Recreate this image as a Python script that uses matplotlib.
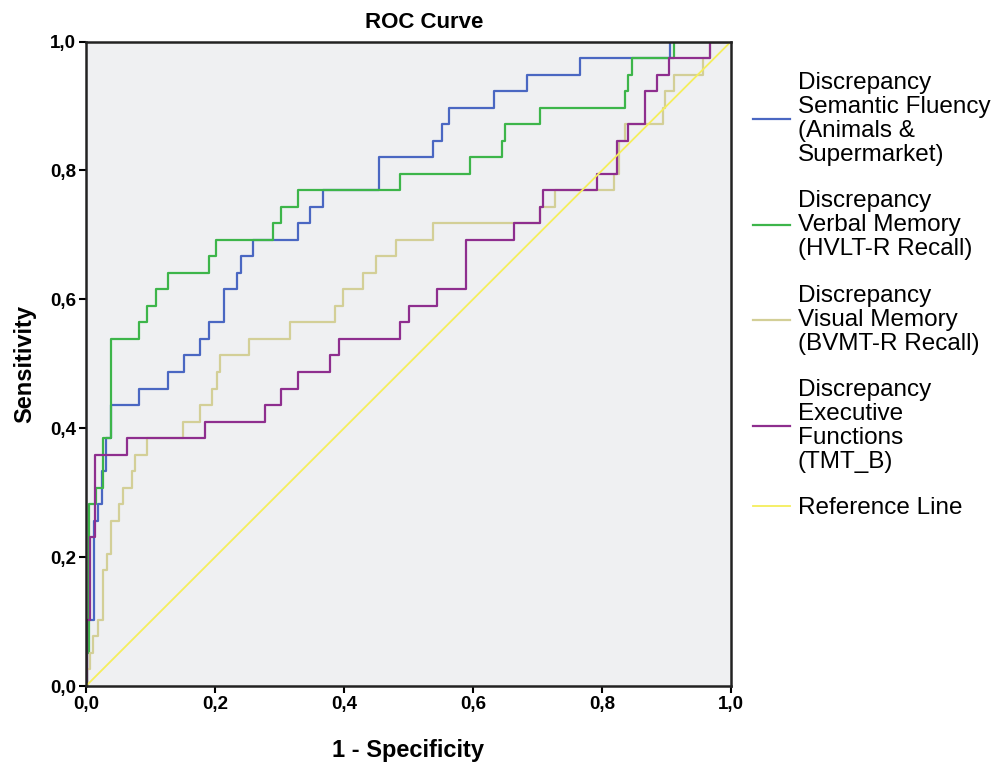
import matplotlib
matplotlib.use("Agg")
import matplotlib.pyplot as plt
from matplotlib.ticker import FuncFormatter

plt.rcParams['font.family'] = ['Liberation Sans', 'DejaVu Sans']

# ROC step points (1 - specificity, sensitivity); sensitivity in units of 1/39
fluency_fpr = [0.0, 0.002, 0.012, 0.019, 0.025, 0.031, 0.038, 0.082, 0.127, 0.152, 0.177,
               0.190, 0.214, 0.234, 0.240, 0.259, 0.328, 0.348, 0.367, 0.455, 0.538,
               0.552, 0.563, 0.633, 0.683, 0.766, 0.905, 1.0]
fluency_k = [0, 4, 10, 11, 13, 15, 17, 18, 19, 20, 21, 22, 24, 25, 26, 27, 28, 29, 30,
             32, 33, 34, 35, 36, 37, 38, 39, 39]

verbal_fpr = [0.0, 0.002, 0.005, 0.015, 0.026, 0.038, 0.082, 0.095, 0.108, 0.127, 0.190,
              0.202, 0.290, 0.303, 0.328, 0.487, 0.595, 0.645, 0.650, 0.704, 0.836,
              0.840, 0.847, 0.911, 1.0]
verbal_k = [0, 2, 11, 12, 15, 21, 22, 23, 24, 25, 26, 27, 28, 29, 30, 31, 32, 33, 34, 35,
            36, 37, 38, 39, 39]

visual_fpr = [0.0, 0.002, 0.006, 0.011, 0.019, 0.026, 0.032, 0.038, 0.051, 0.057, 0.071,
              0.076, 0.094, 0.151, 0.177, 0.196, 0.203, 0.208, 0.253, 0.316, 0.386,
              0.399, 0.430, 0.450, 0.481, 0.538, 0.704, 0.727, 0.818, 0.826, 0.836,
              0.894, 0.898, 0.912, 0.956, 0.967, 1.0]
visual_k = [0, 1, 2, 3, 4, 7, 8, 10, 11, 12, 13, 14, 15, 16, 17, 18, 19, 20, 21, 22, 23,
            24, 25, 26, 27, 28, 29, 30, 31, 33, 34, 35, 36, 37, 38, 39, 39]

exec_fpr = [0.0, 0.002, 0.006, 0.0135, 0.063, 0.184, 0.278, 0.303, 0.328, 0.379, 0.393,
            0.487, 0.500, 0.544, 0.589, 0.664, 0.704, 0.709, 0.792, 0.823, 0.841,
            0.867, 0.885, 0.904, 0.967, 1.0]
exec_k = [0, 4, 9, 14, 15, 16, 17, 18, 19, 20, 21, 22, 23, 24, 27, 28, 29, 30, 31, 33,
          34, 36, 37, 38, 39, 39]

n_pos = 39

curves = [
    ("Discrepancy\nSemantic Fluency\n(Animals &\nSupermarket)", fluency_fpr, fluency_k, '#4a67c2'),
    ("Discrepancy\nVerbal Memory\n(HVLT-R Recall)", verbal_fpr, verbal_k, '#3db54a'),
    ("Discrepancy\nVisual Memory\n(BVMT-R Recall)", visual_fpr, visual_k, '#d3cf97'),
    ("Discrepancy\nExecutive\nFunctions\n(TMT_B)", exec_fpr, exec_k, '#8e2e8e'),
]

fig = plt.figure(figsize=(9.99, 7.62), dpi=100)
ax = fig.add_axes([86 / 999, 76 / 762, 645 / 999, 644.5 / 762])
ax.set_facecolor('#eff0f2')

for label, fpr, k, color in curves:
    tpr = [v / n_pos for v in k]
    # sensitivity jumps to tpr[i] at fpr[i]
    ax.plot(fpr, tpr, drawstyle='steps-post', color=color, lw=1.6, label=label)

ax.plot([0, 1], [0, 1], color='#f5ee5c', lw=1.3, label='Reference Line')

ax.set_xlim(0, 1)
ax.set_ylim(0, 1)
ticks = [0, 0.2, 0.4, 0.6, 0.8, 1.0]
ax.set_xticks(ticks)
ax.set_yticks(ticks)
fmt = FuncFormatter(lambda v, p: f"{v:.1f}".replace('.', ','))
ax.xaxis.set_major_formatter(fmt)
ax.yaxis.set_major_formatter(fmt)
ax.tick_params(direction='out', length=5, width=1.5, pad=2, labelsize=13.5)
for t in ax.get_xticklabels() + ax.get_yticklabels():
    t.set_fontweight('bold')
for s in ax.spines.values():
    s.set_linewidth(1.8)
    s.set_color('#222222')

ax.set_title("ROC Curve", fontsize=16, fontweight='bold', pad=10, x=0.524)
ax.set_xlabel("1 - Specificity", fontsize=17, fontweight='bold', labelpad=19)
ax.set_ylabel("Sensitivity", fontsize=17, fontweight='bold', labelpad=10)

leg = fig.legend(loc='upper left', bbox_to_anchor=(743 / 999, 1 - 62 / 762),
                 frameon=False, fontsize=17.5, handlelength=1.55, handletextpad=0.3,
                 labelspacing=1.0, borderaxespad=0)
for t in leg.get_texts():
    t.set_linespacing(1.12)

fig.savefig("out.png", dpi=100)
